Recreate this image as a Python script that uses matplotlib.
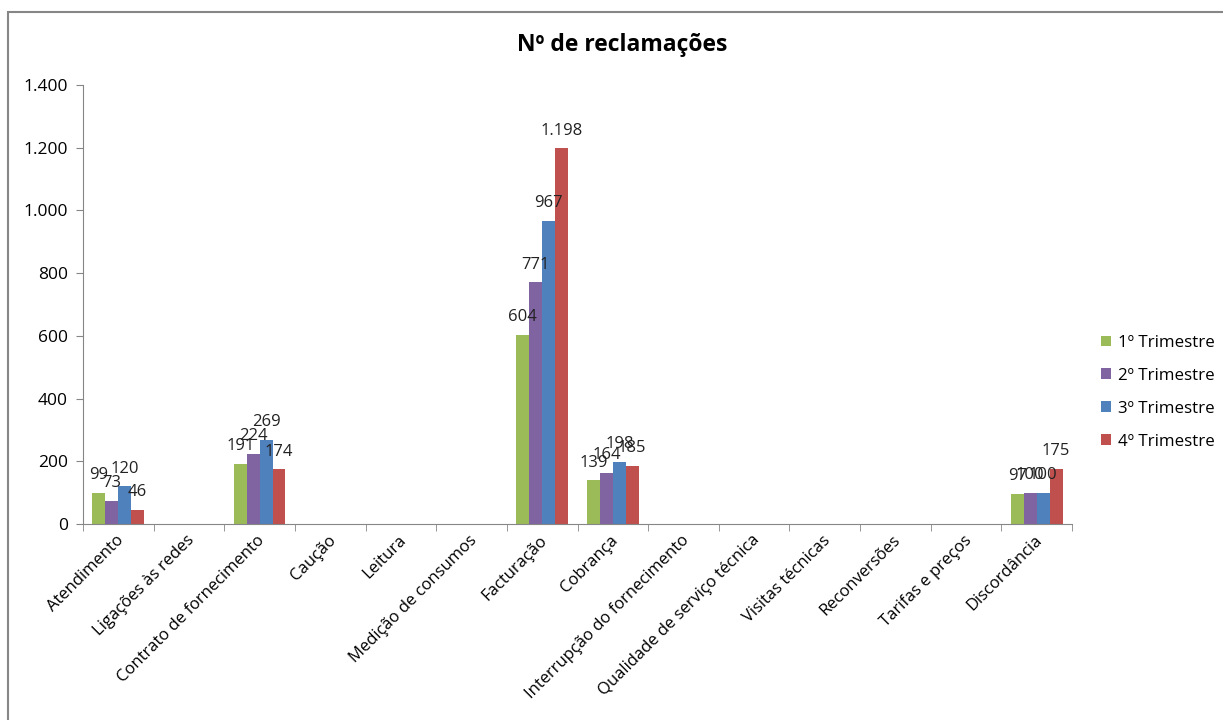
import numpy as np
import matplotlib.pyplot as plt
from matplotlib.patches import Rectangle
from matplotlib.transforms import ScaledTranslation

categorias = ["Atendimento", "Ligações às redes", "Contrato de fornecimento", "Caução",
              "Leitura", "Medição de consumos", "Facturação", "Cobrança",
              "Interrupção do fornecimento", "Qualidade de serviço técnica",
              "Visitas técnicas", "Reconversões", "Tarifas e preços", "Discordância"]
series = ["1º Trimestre", "2º Trimestre", "3º Trimestre", "4º Trimestre"]
t1 = [99, None, 191, None, None, None, 604, 139, None, None, None, None, None, 97]
t2 = [73, None, 224, None, None, None, 771, 164, None, None, None, None, None, 100]
t3 = [120, None, 269, None, None, None, 967, 198, None, None, None, None, None, 100]
t4 = [46, None, 174, None, None, None, 1198, 185, None, None, None, None, None, 175]
cores = ["#9BBB59", "#8064A2", "#4F81BD", "#C0504D"]
yticks = [0, 200, 400, 600, 800, 1000, 1200, 1400]

plt.rcParams['font.family'] = ['Open Sans', 'DejaVu Sans']

fig = plt.figure(figsize=(12.23, 7.2), dpi=100)
# moldura do gráfico (cortada à direita e em baixo)
fig.patches.append(Rectangle((8 / 1223, -0.05), 1.2, 1 - 12 / 720 + 0.05,
                             transform=fig.transFigure, fill=False,
                             edgecolor='#868686', linewidth=1.5))
ax = fig.add_axes([83 / 1223, 1 - 524 / 720, (1072 - 83) / 1223, (524 - 85) / 720])

def fmt(v):
    return f"{v:,}".replace(",", ".")

x = np.arange(len(categorias))
largura = 0.183
for i, (vals, nome, cor) in enumerate(zip([t1, t2, t3, t4], series, cores)):
    pos = x + (i - 1.5) * largura
    alt = [v if v is not None else 0 for v in vals]
    ax.bar(pos, alt, largura, color=cor, label=nome, linewidth=0)
    for p, v in zip(pos, vals):
        if v is not None:
            ax.annotate(fmt(v), (p, v), xytext=(0, 7), textcoords='offset points',
                        ha='center', va='bottom', fontsize=12, color='#222222')

ax.set_xlim(-0.5, len(categorias) - 0.5)
ax.set_ylim(0, 1400)
ax.set_yticks(yticks)
ax.set_yticklabels([fmt(v) for v in yticks], fontsize=12.5)
ax.set_xticks(x)
ax.set_xticks(np.arange(len(categorias) + 1) - 0.5, minor=True)
ax.tick_params(axis='x', length=0, pad=10)
ax.tick_params(axis='x', which='minor', length=5, color='#868686')
ax.tick_params(axis='y', length=5, color='#868686', pad=6)
ax.set_xticklabels(categorias, rotation=45, ha='right', va='center',
                   rotation_mode='anchor', fontsize=12)
desloc = ScaledTranslation(3 / 100, 0, fig.dpi_scale_trans)
for lab in ax.get_xticklabels():
    lab.set_transform(lab.get_transform() + desloc)
for s in ['top', 'right']:
    ax.spines[s].set_visible(False)
for s in ['left', 'bottom']:
    ax.spines[s].set_color('#868686')

fig.text(622 / 1223, 1 - 45 / 720, "Nº de reclamações", ha='center', va='center',
         fontsize=16.5, fontweight='bold')

ax.legend(loc='center left', bbox_to_anchor=(1.014, 0.30), frameon=False, fontsize=12.2,
          handlelength=0.6, handleheight=0.6, handletextpad=0.4, labelspacing=1.0)

fig.savefig("out.png", dpi=100)
